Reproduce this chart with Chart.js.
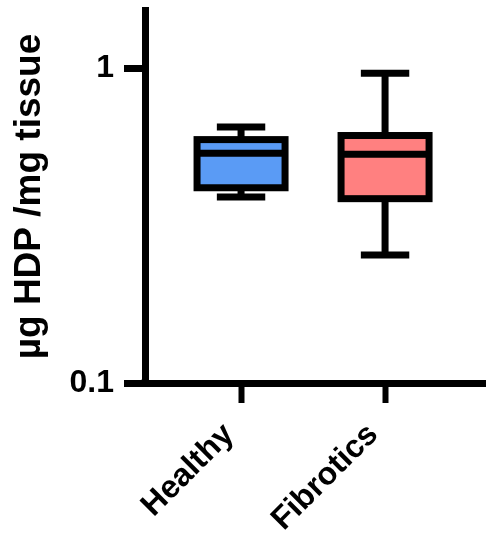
<!DOCTYPE html>
<html>
<head>
<meta charset="utf-8">
<script src="https://cdn.jsdelivr.net/npm/chart.js@4"></script>
<style>
  html, body { margin: 0; padding: 0; background: #fff; }
  #wrap { width: 492px; height: 550px; }
</style>
</head>
<body>
<div id="wrap"><canvas id="chart" width="492" height="550"></canvas></div>
<script>
const categories = ["Healthy", "Fibrotics"];
const whiskerLow = [0.39, 0.255];
const quartile1 = [0.417, 0.385];
const medians = [0.537, 0.533];
const quartile3 = [0.593, 0.611];
const whiskerHigh = [0.65, 0.964];
const boxColors = ["#5a9bf5", "#ff8080"];
const yTicks = [0.1, 1];

const boxPlot = {
    id: "boxPlot",
    afterDatasetsDraw(chart) {
        const ctx = chart.ctx;
        const xs = chart.scales.x;
        const ys = chart.scales.y;
        const bars = chart.getDatasetMeta(0).data;
        ctx.save();
        ctx.strokeStyle = "#000";
        ctx.lineWidth = 7;
        ctx.lineCap = "butt";
        categories.forEach((c, i) => {
            const x = xs.getPixelForValue(i);
            const half = bars[i].width / 2;
            const cap = half * 0.55;
            const yMin = ys.getPixelForValue(whiskerLow[i]);
            const yQ1 = ys.getPixelForValue(quartile1[i]);
            const yMed = ys.getPixelForValue(medians[i]);
            const yQ3 = ys.getPixelForValue(quartile3[i]);
            const yMax = ys.getPixelForValue(whiskerHigh[i]);

            ctx.beginPath();
            ctx.moveTo(x, yQ3); ctx.lineTo(x, yMax);
            ctx.moveTo(x - cap, yMax); ctx.lineTo(x + cap, yMax);
            ctx.moveTo(x, yQ1); ctx.lineTo(x, yMin);
            ctx.moveTo(x - cap, yMin); ctx.lineTo(x + cap, yMin);
            ctx.moveTo(x - half, yMed); ctx.lineTo(x + half, yMed);
            ctx.stroke();
            ctx.strokeRect(x - half, yQ3, half * 2, yQ1 - yQ3);
        });
        // close the little gap where the two axis lines meet
        const a = chart.chartArea;
        ctx.fillStyle = "#000";
        ctx.fillRect(a.left - 3.5, a.bottom - 3.5, 7, 7);
        ctx.restore();
    }
};

new Chart(document.getElementById("chart"), {
    type: "bar",
    data: {
        datasets: [{
            data: categories.map((c, i) => ({ x: i, y: [quartile1[i], quartile3[i]] })),
            backgroundColor: boxColors,
            borderWidth: 0,
            barThickness: 88
        }]
    },
    options: {
        responsive: false,
        animation: false,
        layout: { padding: { top: 10, right: 7, left: 0, bottom: 0 } },
        plugins: { legend: { display: false }, tooltip: { enabled: false } },
        scales: {
            x: {
                type: "linear",
                offset: false,
                min: -0.667,
                max: 1.694,
                afterBuildTicks: (scale) => { scale.ticks = categories.map((c, i) => ({ value: i })); },
                afterFit: (scale) => {
                    scale.height = 167;
                    scale.paddingLeft = 0;
                    scale.paddingRight = 0;
                },
                ticks: {
                    callback: (v) => categories[v],
                    minRotation: 45,
                    maxRotation: 45,
                    color: "#000",
                    padding: 13,
                    labelOffset: -12,
                    font: { family: "Arial, 'Liberation Sans', sans-serif", size: 32, weight: "bold" }
                },
                grid: { offset: false, drawOnChartArea: false, drawTicks: true, tickLength: 20, tickWidth: 6, tickColor: "#000" },
                border: { display: true, color: "#000", width: 7 }
            },
            y: {
                type: "logarithmic",
                min: 0.1,
                max: 1.53,
                afterBuildTicks: (scale) => { scale.ticks = yTicks.map(v => ({ value: v })); },
                afterFit: (scale) => {
                    scale.width = 145;
                    scale.paddingTop = 0;
                    scale.paddingBottom = 0;
                },
                ticks: {
                    callback: (v) => String(v),
                    color: "#000",
                    padding: 10,
                    font: { family: "Arial, 'Liberation Sans', sans-serif", size: 32, weight: "bold" }
                },
                grid: { drawOnChartArea: false, drawTicks: true, tickLength: 21, tickWidth: 7, tickColor: "#000" },
                border: { display: true, color: "#000", width: 7 },
                title: {
                    display: true,
                    text: "µg HDP /mg tissue",
                    color: "#000",
                    padding: { top: 8, bottom: 0 },
                    font: { family: "Arial, 'Liberation Sans', sans-serif", size: 37, weight: "bold" }
                }
            }
        }
    },
    plugins: [boxPlot]
});
</script>
</body>
</html>
